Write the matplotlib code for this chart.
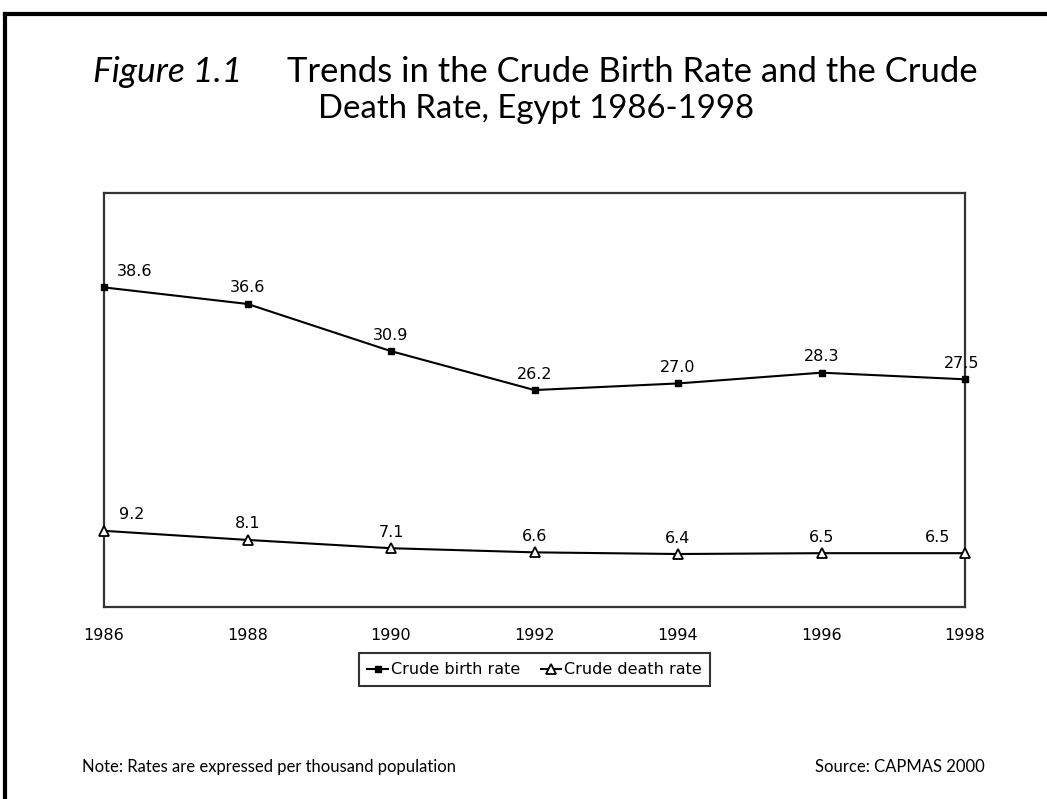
import matplotlib.pyplot as plt
from matplotlib.lines import Line2D

# Data
years = [1986, 1988, 1990, 1992, 1994, 1996, 1998]
birth_rate = [38.6, 36.6, 30.9, 26.2, 27.0, 28.3, 27.5]
death_rate = [9.2, 8.1, 7.1, 6.6, 6.4, 6.5, 6.5]
birth_labels = ["38.6", "36.6", "30.9", "26.2", "27.0", "28.3", "27.5"]
death_labels = ["9.2", "8.1", "7.1", "6.6", "6.4", "6.5", "6.5"]

plt.rcParams['font.family'] = ['DejaVu Sans']

W, H = 1047, 799
fig = plt.figure(figsize=(W / 100, H / 100), dpi=100)
ax = fig.add_axes([104 / W, 1 - 607 / H, (965 - 104) / W, (607 - 193) / H])

ax.plot(years, birth_rate, color='black', lw=1.5, marker='s', markersize=5,
        label='Crude birth rate', clip_on=False, zorder=3)
ax.plot(years, death_rate, color='black', lw=1.5, marker='^', markersize=7.5,
        markerfacecolor='white', markeredgewidth=1.3, label='Crude death rate',
        clip_on=False, zorder=3)

# data labels
for i, (x, y) in enumerate(zip(years, birth_rate)):
    dx = 31 if i == 0 else (-3 if i == len(years) - 1 else 0)
    ax.annotate(birth_labels[i], (x, y), xytext=(dx, 16), textcoords='offset pixels',
                ha='center', va='center', fontsize=11.5)
for i, (x, y) in enumerate(zip(years, death_rate)):
    dx = 28 if i == 0 else (-27 if i == len(years) - 1 else 0)
    ax.annotate(death_labels[i], (x, y), xytext=(dx, 16), textcoords='offset pixels',
                ha='center', va='center', fontsize=11.5)

ax.set_xlim(1986, 1998)
ax.set_ylim(0, 50)
ax.set_xticks(years)
ax.set_xticklabels([str(y) for y in years], fontsize=11.5)
ax.set_yticks([])
ax.tick_params(axis='x', length=0, pad=15)
for s in ax.spines.values():
    s.set_linewidth(1.6)
    s.set_color('#333333')

leg = ax.legend(loc='upper center', bbox_to_anchor=(0.5, -0.112), ncol=2,
                frameon=True, fancybox=False, edgecolor='black', fontsize=11.5,
                handlelength=1.3, handletextpad=0.15, columnspacing=1.3,
                borderpad=0.55, borderaxespad=0)
leg.get_frame().set_linewidth(1.5)

# title
fig.text(93 / W, 1 - 82 / H, 'Figure 1.1', fontsize=25.5, style='italic',
         family='Lato', va='baseline', ha='left')
fig.text(287 / W, 1 - 82 / H, 'Trends in the Crude Birth Rate and the Crude',
         fontsize=24.9, family='Lato', va='baseline', ha='left')
fig.text(318 / W, 1 - 118 / H, 'Death Rate, Egypt 1986-1998',
         fontsize=23.7, family='Lato', va='baseline', ha='left')

# footer
fig.text(82 / W, 1 - 772 / H, 'Note: Rates are expressed per thousand population',
         fontsize=12, family='Lato', va='baseline', ha='left')
fig.text(985 / W, 1 - 772 / H, 'Source: CAPMAS 2000',
         fontsize=12, family='Lato', va='baseline', ha='right')

# page frame (left and top edges)
fig.add_artist(Line2D([5 / W, 5 / W], [0, 1 - 14 / H], transform=fig.transFigure,
                      color='black', lw=3))
fig.add_artist(Line2D([5 / W, 1], [1 - 14 / H, 1 - 14 / H], transform=fig.transFigure,
                      color='black', lw=3))

fig.savefig('out.png', dpi=100)
